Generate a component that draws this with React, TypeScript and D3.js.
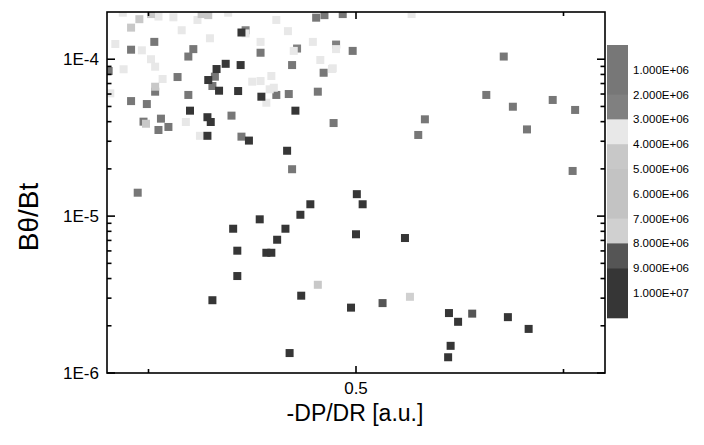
import React from 'react';
import * as d3 from 'd3';

// [-DP/DR, Bθ/Bt] pairs, grouped by colour level
const level15: [number, number][] = [
  [0.452, 1.84e-4], [0.462, 1.91e-4], [0.484, 1.94e-4], [0.257, 1.29e-4], [0.229, 1.15e-4],
  [0.304, 1.16e-4], [0.298, 1.04e-4], [0.385, 1.10e-4], [0.496, 1.13e-4], [0.202, 8.41e-5],
  [0.423, 9.18e-5], [0.461, 8.20e-5], [0.285, 7.70e-5], [0.330, 7.74e-5], [0.327, 6.75e-5],
  [0.404, 5.92e-5], [0.419, 6.00e-5], [0.454, 6.21e-5], [0.258, 6.21e-5], [0.298, 5.92e-5],
  [0.229, 5.41e-5], [0.248, 5.18e-5], [0.350, 4.37e-5], [0.244, 4.00e-5], [0.265, 4.18e-5],
  [0.274, 3.70e-5], [0.262, 3.54e-5], [0.362, 3.21e-5], [0.473, 3.92e-5], [0.423, 1.99e-5],
  [0.237, 1.41e-5], [0.678, 1.04e-4], [0.657, 5.92e-5], [0.689, 4.98e-5], [0.737, 5.50e-5],
  [0.764, 4.75e-5], [0.583, 4.14e-5], [0.575, 3.29e-5], [0.706, 3.57e-5], [0.761, 1.94e-5],
];
const level25: [number, number][] = [
  [0.367, 1.53e-4], [0.476, 1.24e-4], [0.429, 1.17e-4],
];
const level35: [number, number][] = [
  [0.219, 1.98e-4], [0.262, 1.87e-4], [0.280, 1.85e-4], [0.309, 1.78e-4], [0.346, 1.98e-4],
  [0.404, 1.78e-4], [0.290, 1.53e-4], [0.367, 1.46e-4], [0.418, 1.51e-4], [0.210, 1.25e-4],
  [0.324, 1.36e-4], [0.385, 1.29e-4], [0.448, 1.29e-4], [0.476, 1.16e-4], [0.242, 1.14e-4],
  [0.425, 1.13e-4], [0.253, 1.00e-4], [0.258, 8.96e-5], [0.220, 8.63e-5], [0.457, 9.89e-5],
  [0.471, 8.66e-5], [0.267, 7.48e-5], [0.375, 7.19e-5], [0.385, 7.26e-5], [0.398, 7.82e-5],
  [0.396, 6.43e-5], [0.401, 6.58e-5], [0.392, 5.28e-5], [0.204, 6.06e-5], [0.295, 3.98e-5],
  [0.312, 3.25e-5], [0.567, 1.94e-4], [0.472, 8.75e-5],
];
const level45: [number, number][] = [
  [0.239, 1.80e-4], [0.253, 1.94e-4], [0.314, 1.94e-4], [0.322, 1.91e-4], [0.229, 1.59e-4],
  [0.258, 6.68e-5], [0.247, 3.88e-5], [0.454, 3.65e-6],
];
const level75: [number, number][] = [[0.565, 3.06e-6]];
const level85: [number, number][] = [[0.532, 2.79e-6], [0.640, 2.39e-6]];
const level95: [number, number][] = [
  [0.362, 1.48e-4], [0.343, 9.35e-5], [0.361, 9.18e-5], [0.332, 8.66e-5], [0.322, 7.37e-5],
  [0.335, 6.30e-5], [0.358, 6.27e-5], [0.386, 5.77e-5], [0.300, 4.70e-5], [0.427, 4.70e-5],
  [0.321, 4.27e-5], [0.325, 3.98e-5], [0.321, 3.25e-5], [0.371, 3.03e-5], [0.417, 2.61e-5],
  [0.501, 1.38e-5], [0.445, 1.19e-5], [0.433, 1.02e-5], [0.384, 9.54e-6], [0.352, 8.31e-6],
  [0.415, 8.31e-6], [0.405, 7.07e-6], [0.357, 6.02e-6], [0.392, 5.84e-6], [0.398, 5.84e-6],
  [0.357, 4.15e-6], [0.434, 3.11e-6], [0.327, 2.91e-6], [0.494, 2.61e-6], [0.420, 1.34e-6],
  [0.508, 1.19e-5], [0.500, 7.66e-6], [0.559, 7.25e-6], [0.612, 2.41e-6], [0.623, 2.12e-6],
  [0.683, 2.27e-6], [0.708, 1.91e-6], [0.614, 1.49e-6], [0.611, 1.26e-6],
];

const series = [
  { z: 1.5e6, pts: level15 },
  { z: 2.5e6, pts: level25 },
  { z: 3.5e6, pts: level35 },
  { z: 4.5e6, pts: level45 },
  { z: 7.5e6, pts: level75 },
  { z: 8.5e6, pts: level85 },
  { z: 9.5e6, pts: level95 },
];

const levelThresholds = [1e6, 2e6, 3e6, 4e6, 5e6, 6e6, 7e6, 8e6, 9e6, 1e7];
const levelLabels = ['1.000E+06', '2.000E+06', '3.000E+06', '4.000E+06', '5.000E+06',
  '6.000E+06', '7.000E+06', '8.000E+06', '9.000E+06', '1.000E+07'];
const levelColors = ['#777777', '#777777', '#808080', '#e8e8e8', '#c8c8c8', '#c3c3c3',
  '#c3c3c3', '#d0d0d0', '#555555', '#363636', '#363636'];

const xMajor = [0.5];
const xMinor = [0.25, 0.75];
const yMajor = [1e-6, 1e-5, 1e-4];
const yLabels = ['1E-6', '1E-5', '1E-4'];

const W = 704, H = 445;
const left = 107, right = 605, top = 12, bottom = 373;
const font = '"Liberation Sans", Arial, sans-serif';

export default function App() {
  const x = d3.scaleLinear().domain([0.2, 0.8]).range([left, right]);
  const y = d3.scaleLog().domain([1e-6, 2e-4]).range([bottom, top]);
  const color = d3.scaleThreshold<number, string>().domain(levelThresholds).range(levelColors);
  const yMinor = y.ticks().filter(t => !yMajor.some(m => Math.abs(m - t) / m < 1e-6) && t < 2e-4);

  const barTop = 45, barH = 24.8, barX = 607, barW = 21;
  const s = 8;

  return (
    <svg width={W} height={H} style={{ position: 'absolute', left: 0, top: 0, background: '#fff' }}>
      <defs>
        <clipPath id="plot">
          <rect x={left} y={top} width={right - left} height={bottom - top} />
        </clipPath>
      </defs>
      <g clipPath="url(#plot)">
        {series.map((sr, i) => (
          <g key={i} fill={color(sr.z)}>
            {sr.pts.map((p, j) => (
              <rect key={j} x={x(p[0]) - s / 2} y={y(p[1]) - s / 2} width={s} height={s} />
            ))}
          </g>
        ))}
      </g>

      {/* colour bar */}
      {levelColors.map((c, i) => (
        <rect key={i} x={barX} y={barTop + i * barH} width={barW} height={barH + 0.5} fill={c} />
      ))}
      {levelLabels.map((l, i) => (
        <text key={l} x={633} y={barTop + (i + 1) * barH} dy="0.35em" fontSize={11.5}
          fontFamily={font} fill="#000">{l}</text>
      ))}

      {/* frame and ticks */}
      <g stroke="#000" strokeWidth={1.6}>
        <rect x={left} y={top} width={right - left} height={bottom - top} fill="none" />
        {xMajor.map(t => (
          <g key={t}>
            <line x1={x(t)} x2={x(t)} y1={bottom} y2={bottom - 7} />
            <line x1={x(t)} x2={x(t)} y1={top} y2={top + 7} />
          </g>
        ))}
        {xMinor.map(t => (
          <g key={t}>
            <line x1={x(t)} x2={x(t)} y1={bottom} y2={bottom - 4} />
            <line x1={x(t)} x2={x(t)} y1={top} y2={top + 4} />
          </g>
        ))}
        {yMajor.map(t => (
          <g key={t}>
            <line x1={left} x2={left + 8} y1={y(t)} y2={y(t)} />
            <line x1={right} x2={right - 8} y1={y(t)} y2={y(t)} />
          </g>
        ))}
        {yMinor.map(t => (
          <g key={t}>
            <line x1={left} x2={left + 4.5} y1={y(t)} y2={y(t)} />
            <line x1={right} x2={right - 4.5} y1={y(t)} y2={y(t)} />
          </g>
        ))}
      </g>

      {/* tick labels */}
      {yMajor.map((t, i) => (
        <text key={t} x={99} y={y(t)} dy="0.35em" textAnchor="end" fontSize={17}
          fontFamily={font}>{yLabels[i]}</text>
      ))}
      {xMajor.map(t => (
        <text key={t} x={x(t)} y={388} dy="0.35em" textAnchor="middle" fontSize={17}
          fontFamily={font}>{d3.format('.1f')(t)}</text>
      ))}

      {/* axis titles */}
      <text x={355} y={413} dy="0.35em" textAnchor="middle" fontSize={23} fontFamily={font}>-DP/DR [a.u.]</text>
      <text transform="translate(28,217) rotate(-90)" dy="0.35em" textAnchor="middle" fontSize={28}
        fontFamily={font}>Bθ/Bt</text>
    </svg>
  );
}
